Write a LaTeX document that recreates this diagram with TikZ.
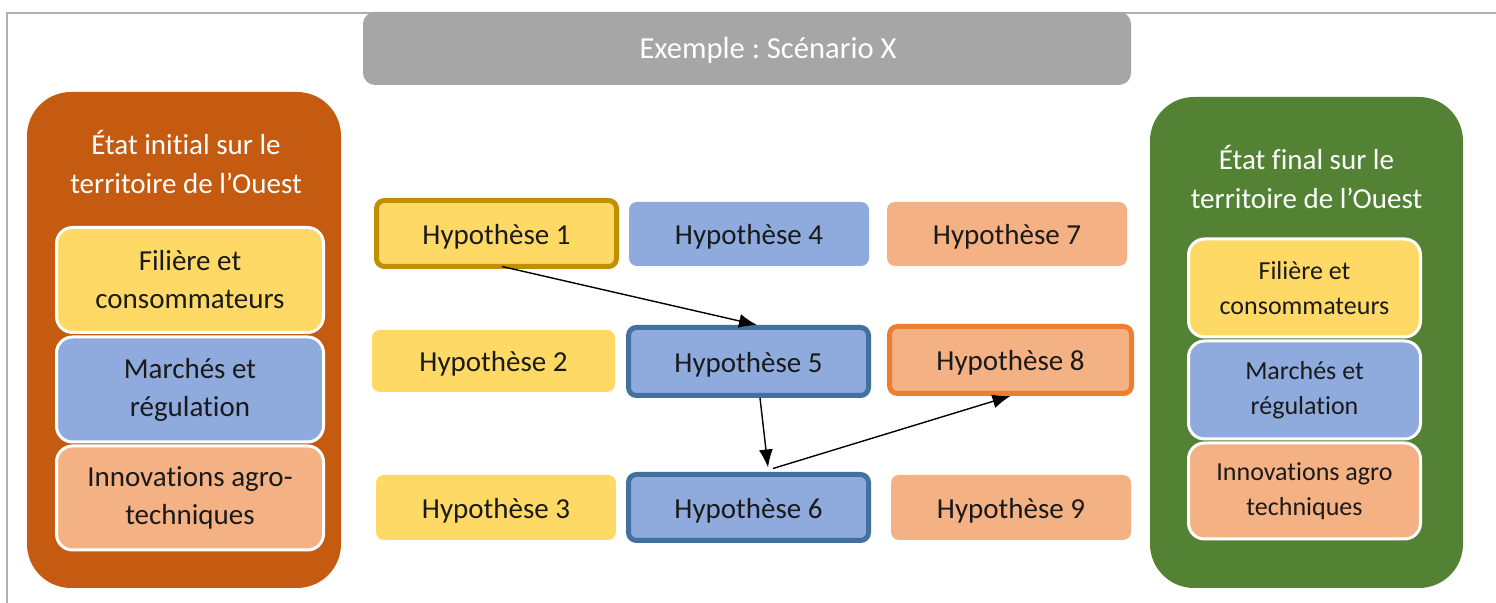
\documentclass[tikz,border=0pt]{standalone}
\usepackage{fontspec}
\setmainfont{Carlito}[RawFeature=-liga]
\usetikzlibrary{arrows.meta,calc}
\definecolor{titlegray}{HTML}{A6A6A6}
\definecolor{framegray}{HTML}{B0B0B0}
\definecolor{rust}{HTML}{C55A11}
\definecolor{leaf}{HTML}{548235}
\definecolor{hyel}{HTML}{FFD966}
\definecolor{hblu}{HTML}{8FAADC}
\definecolor{hora}{HTML}{F4B183}
\definecolor{bgold}{HTML}{BF9000}
\definecolor{bblu}{HTML}{41719C}
\definecolor{bora}{HTML}{ED7D31}
\definecolor{txt}{HTML}{1A1A1A}
\frenchspacing
\tikzset{
  hyp/.style={rectangle, rounded corners=4pt, minimum width=120pt, minimum height=32pt,
    inner sep=0pt, text=txt, font=\fontsize{14.5}{19}\selectfont, text height=12pt, text depth=1pt},
  sel/.style={line width=2.5pt},
  panel/.style={rectangle, rounded corners=22pt, inner sep=0pt},
  inbox/.style={rectangle, rounded corners=8pt, draw=white, line width=1.5pt, inner sep=0pt,
    text=txt, align=center},
  ptitle/.style={text=white, align=center, font=\fontsize{14.5}{19.5}\selectfont},
  link/.style={line width=0.7pt, -{Latex[length=9pt,width=7pt]}}
}
\begin{document}
\begin{tikzpicture}[x=0.5pt,y=-0.5pt]
\useasboundingbox (0,0) rectangle (1496,603);
% frame
\draw[framegray, line width=1.2pt] (7,603) -- (7,13) -- (1496,13);
% title
\node[rectangle, rounded corners=6pt, fill=titlegray, minimum width=384pt, minimum height=36.5pt,
  inner sep=0pt] (title) at (747,48.5) {};
\node[text=white, font=\fontsize{15.3}{18}\selectfont, inner sep=0pt] (titletext) at (768,50) {Exemple : Scénario X};
% left panel
\node[panel, fill=rust, minimum width=157pt, minimum height=248pt] (lp) at (184,340) {};
\node[ptitle] (lpt) at (186,162) {État initial sur le\\territoire de l’Ouest};
\node[inbox, fill=hyel, minimum width=133.5pt, minimum height=52.5pt, font=\fontsize{14.5}{19}\selectfont] (l1) at (190,280) {Filière et\\consommateurs};
\node[inbox, fill=hblu, minimum width=133.5pt, minimum height=52.5pt, font=\fontsize{14.5}{19}\selectfont] (l2) at (190,389.5) {Marchés et\\régulation};
\node[inbox, fill=hora, minimum width=133.5pt, minimum height=52pt, font=\fontsize{14.5}{19}\selectfont] (l3) at (190,498) {Innovations agro-\\techniques};
% right panel
\node[panel, fill=leaf, minimum width=156.5pt, minimum height=245.5pt] (rp) at (1306.5,342.5) {};
\node[ptitle] (rpt) at (1306.5,177.5) {État final sur le\\territoire de l’Ouest};
\node[inbox, fill=hyel, minimum width=116pt, minimum height=49pt, font=\fontsize{13}{17.5}\selectfont] (r1) at (1304.5,288) {Filière et\\consommateurs};
\node[inbox, fill=hblu, minimum width=116pt, minimum height=49pt, font=\fontsize{13}{17.5}\selectfont] (r2) at (1304.5,390) {Marchés et\\régulation};
\node[inbox, fill=hora, minimum width=116pt, minimum height=48pt, font=\fontsize{13}{17.5}\selectfont] (r3) at (1304.5,491) {Innovations agro\\techniques};
% hypotheses
\node[hyp, sel, fill=hyel, draw=bgold, minimum height=33pt] (h1) at (496.5,233.5) {Hypothèse 1};
\node[hyp, fill=hblu] (h4) at (749,234) {Hypothèse 4};
\node[hyp, fill=hora] (h7) at (1007,234) {Hypothèse 7};
\node[hyp, fill=hyel, minimum width=121.5pt, minimum height=31pt] (h2) at (493.5,361) {Hypothèse 2};
\node[hyp, sel, fill=hblu, draw=bblu, minimum height=34pt] (h5) at (748.5,361.5) {Hypothèse 5};
\node[hyp, sel, fill=hora, draw=bora, minimum width=121pt, minimum height=33.5pt] (h8) at (1010.5,360) {Hypothèse 8};
\node[hyp, fill=hyel, minimum height=32.5pt] (h3) at (496,507.5) {Hypothèse 3};
\node[hyp, sel, fill=hblu, draw=bblu, minimum height=33pt] (h6) at (748.5,507.5) {Hypothèse 6};
\node[hyp, fill=hora, minimum height=32.5pt] (h9) at (1011,507.5) {Hypothèse 9};
% links
\draw[link] ($(h1.south)+(5.5,-2.5)$) -- ($(h5.north)+(8.5,0)$);
\draw[link] ($(h5.south)+(11.5,0)$) -- ($(h6.north)+(19.5,-4.5)$);
\draw[link] ($(h6.north)+(24.5,-3.5)$) -- (h8.south);
\end{tikzpicture}
\end{document}
